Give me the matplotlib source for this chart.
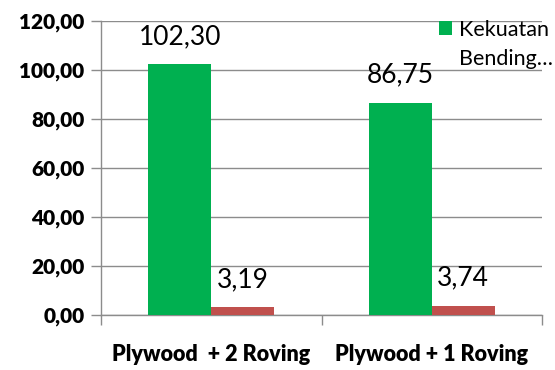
import matplotlib
matplotlib.use("Agg")
import matplotlib.pyplot as plt
from matplotlib.patches import Patch
import numpy as np

categories = ["Plywood  + 2 Roving", "Plywood + 1 Roving"]
bending = [102.30, 86.75]
second = [3.19, 3.74]
legend_lines = ["Kekuatan", "Bending\u2026"]
y_ticks = [0, 20, 40, 60, 80, 100, 120]

plt.rcParams["font.family"] = ["Lato", "DejaVu Sans"]

fig = plt.figure(figsize=(5.55, 3.70), dpi=100)
ax = fig.add_axes([0.182, 0.1486, 0.795, 0.7944])

x = np.arange(len(categories))
w = 0.285
green = "#00B050"
red = "#C0504D"
axis_grey = "#8C8C8C"

b1 = ax.bar(x - w / 2, bending, w, color=green, zorder=3)
b2 = ax.bar(x + w / 2, second, w, color=red, zorder=3)

def fmt(v):
    return f"{v:.2f}".replace(".", ",")

for bars, vals in ((b1, bending), (b2, second)):
    for rect, v in zip(bars, vals):
        ax.annotate(fmt(v), (rect.get_x() + rect.get_width() / 2, v),
                    xytext=(0, 11), textcoords="offset points",
                    ha="center", va="bottom", fontsize=19, zorder=4)

ax.set_xlim(-0.5, 1.5)
ax.set_ylim(0, 120)
ax.set_yticks(y_ticks)
ax.set_yticklabels([fmt(t) for t in y_ticks], fontsize=15, fontweight="heavy")
ax.yaxis.grid(True, color=axis_grey, linewidth=1.0, zorder=0)
ax.set_axisbelow(True)

# category labels centred, ticks on the category boundaries
ax.set_xticks(x)
ax.set_xticklabels(categories, fontsize=15.5, fontweight="heavy")
ax.tick_params(axis="x", length=0, pad=21)
ax.set_xticks([-0.5, 0.5, 1.5], minor=True)
ax.tick_params(axis="x", which="minor", length=7, color=axis_grey, width=1)
ax.tick_params(axis="y", length=7, color=axis_grey, width=1, pad=5)

for s in ["top", "right"]:
    ax.spines[s].set_visible(False)
for s in ["left", "bottom"]:
    ax.spines[s].set_color(axis_grey)
    ax.spines[s].set_linewidth(1.0)

# truncated legend: marker beside the first line only
blank = Patch(facecolor="none", edgecolor="none")
leg = ax.legend(handles=[b1, blank], labels=legend_lines, loc="upper left",
                bbox_to_anchor=(0.765, 1.005), frameon=False, fontsize=15.5,
                handlelength=0.62, handleheight=0.62, handletextpad=0.35,
                borderaxespad=0, borderpad=0, labelspacing=0.42)

fig.savefig("out.png", dpi=100)
